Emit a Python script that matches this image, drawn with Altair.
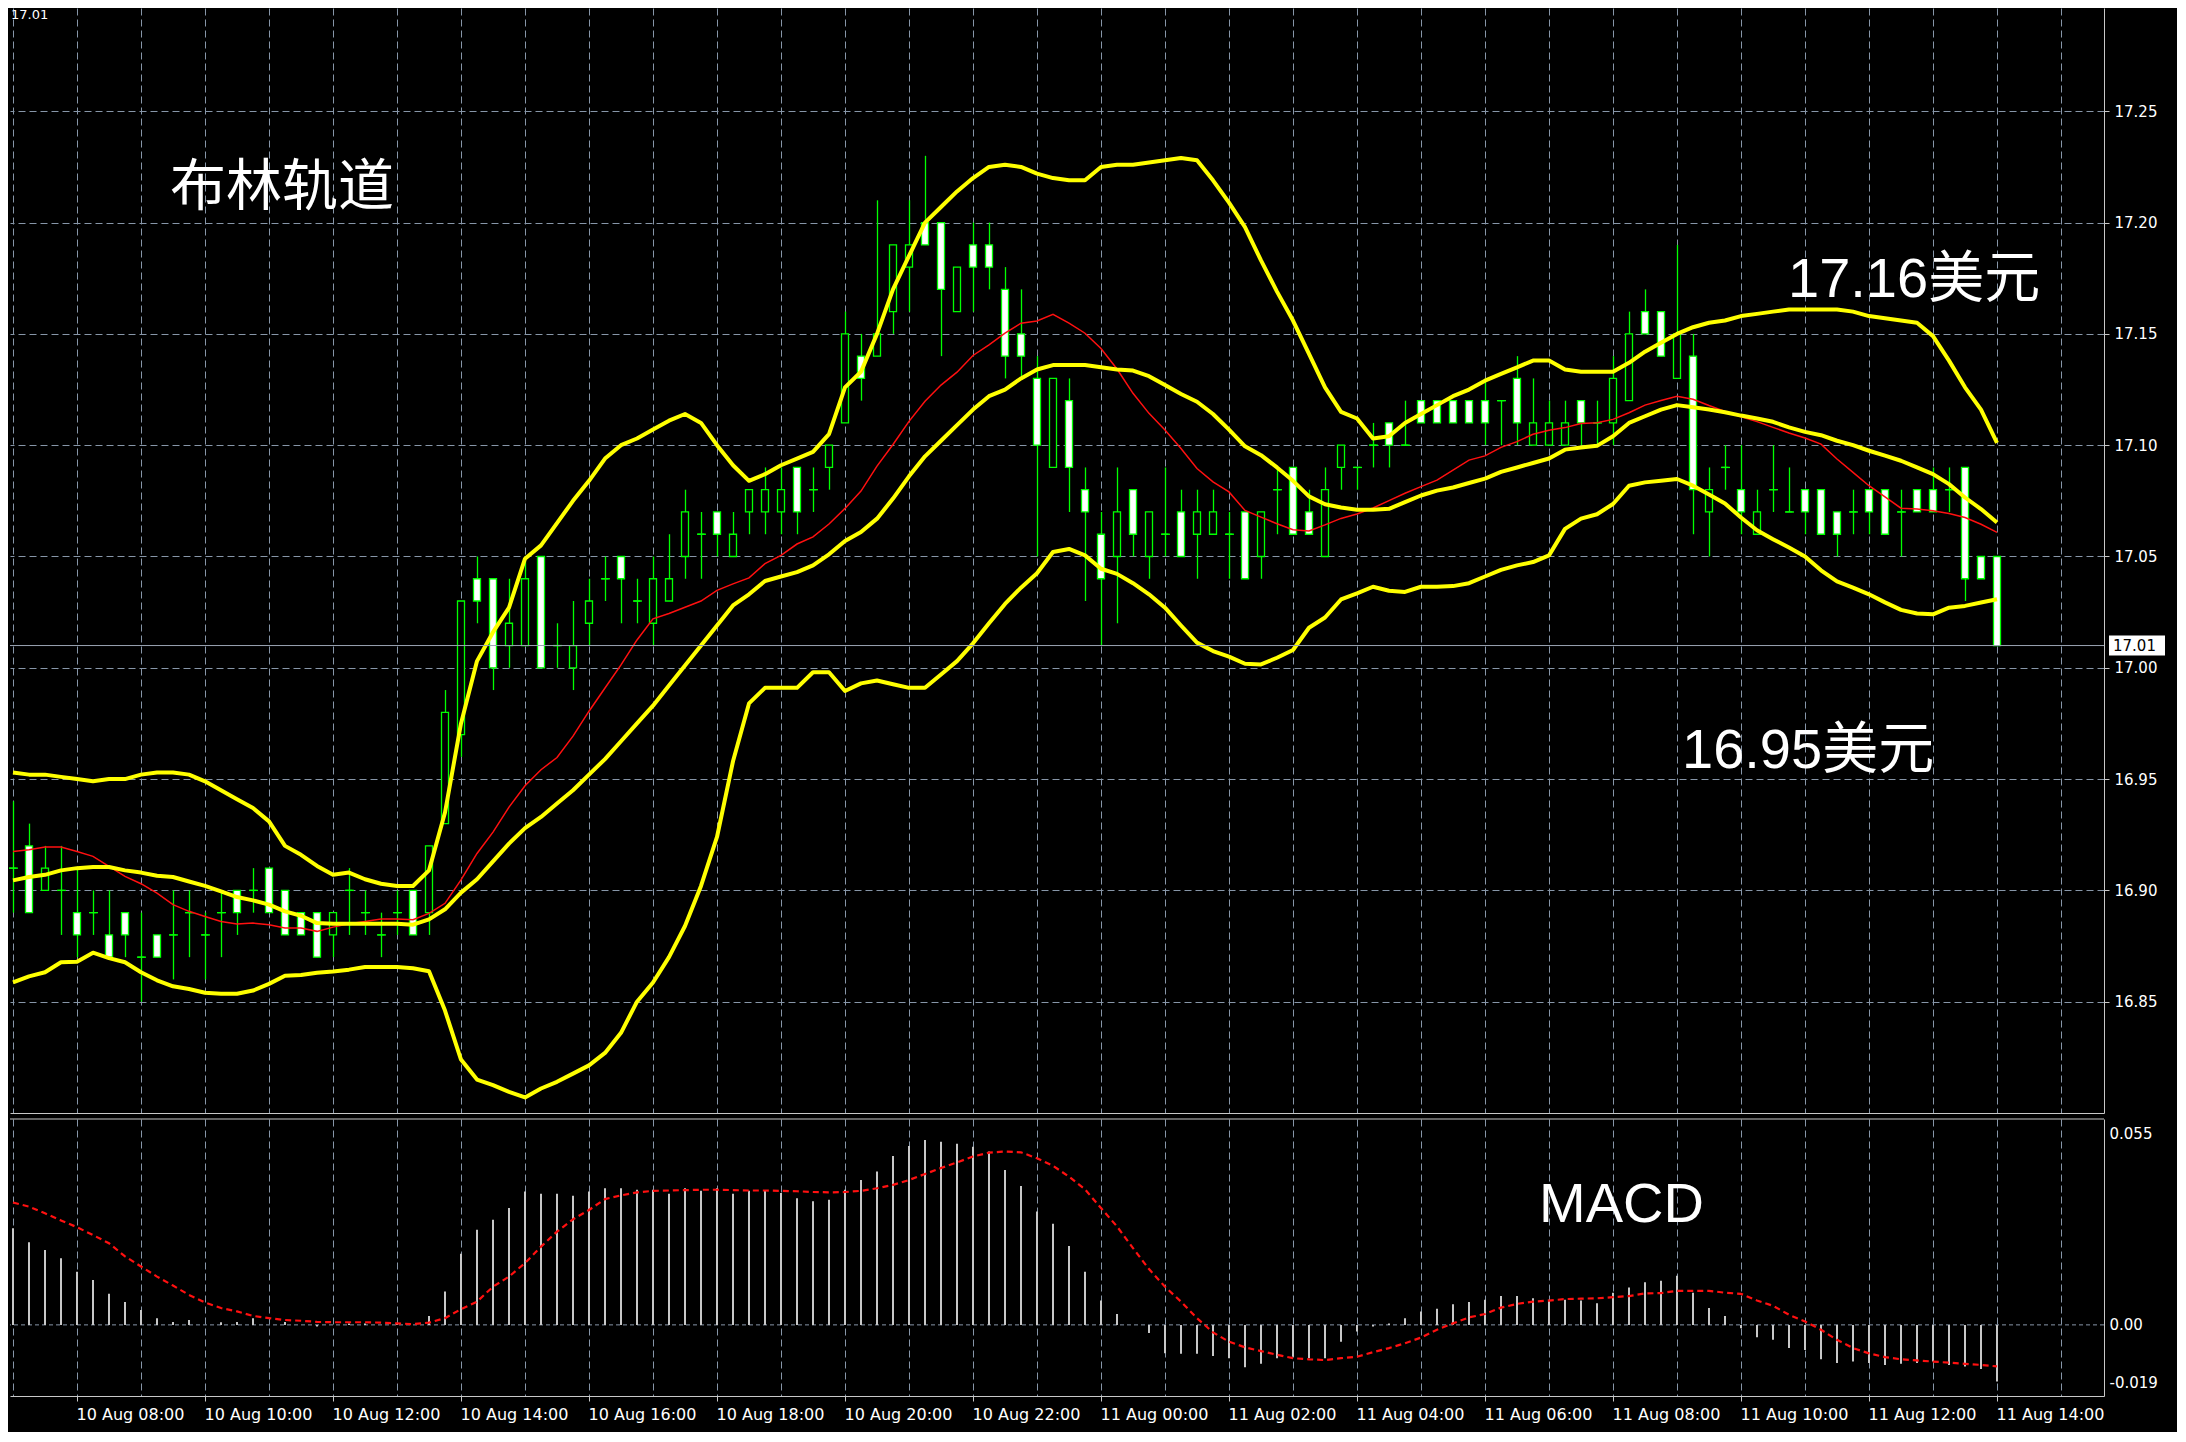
import altair as alt
import pandas as pd

# ---------------- data (XAGUSD M15) ----------------
open_ = [
    16.91, 16.92, 16.90, 16.90, 16.89, 16.89, 16.88, 16.89, 16.87, 16.88,
    16.88, 16.89, 16.88, 16.89, 16.90, 16.90, 16.91, 16.90, 16.89, 16.89,
    16.88, 16.90, 16.89, 16.88, 16.89, 16.90, 16.89, 16.93, 16.97, 17.04,
    17.04, 17.01, 17.01, 17.05, 17.01, 17.00, 17.02, 17.04, 17.05, 17.03,
    17.02, 17.03, 17.05, 17.06, 17.07, 17.05, 17.07, 17.07, 17.07, 17.09,
    17.08, 17.09, 17.11, 17.14, 17.14, 17.16, 17.18, 17.20, 17.20, 17.16,
    17.19, 17.19, 17.17, 17.15, 17.13, 17.09, 17.12, 17.08, 17.06, 17.05,
    17.08, 17.05, 17.06, 17.07, 17.06, 17.06, 17.06, 17.07, 17.05, 17.08,
    17.09, 17.07, 17.05, 17.09, 17.09, 17.10, 17.11, 17.10, 17.12, 17.12,
    17.12, 17.12, 17.12, 17.12, 17.13, 17.10, 17.10, 17.10, 17.12, 17.11,
    17.11, 17.12, 17.16, 17.16, 17.13, 17.14, 17.07, 17.09, 17.08, 17.06,
    17.08, 17.07, 17.08, 17.08, 17.07, 17.07, 17.08, 17.08, 17.07, 17.08,
    17.08, 17.08, 17.09, 17.05, 17.05]
high_ = [
    16.94, 16.93, 16.92, 16.92, 16.91, 16.90, 16.90, 16.89, 16.89, 16.88,
    16.90, 16.90, 16.89, 16.90, 16.90, 16.91, 16.91, 16.90, 16.89, 16.89,
    16.89, 16.91, 16.90, 16.89, 16.90, 16.90, 16.92, 16.99, 17.03, 17.05,
    17.04, 17.04, 17.05, 17.05, 17.02, 17.03, 17.04, 17.05, 17.05, 17.04,
    17.05, 17.06, 17.08, 17.07, 17.07, 17.07, 17.08, 17.09, 17.09, 17.09,
    17.09, 17.10, 17.16, 17.15, 17.21, 17.19, 17.21, 17.23, 17.20, 17.18,
    17.20, 17.20, 17.18, 17.17, 17.14, 17.13, 17.13, 17.09, 17.07, 17.09,
    17.08, 17.07, 17.09, 17.08, 17.08, 17.08, 17.07, 17.07, 17.07, 17.09,
    17.09, 17.08, 17.09, 17.10, 17.09, 17.11, 17.11, 17.12, 17.12, 17.12,
    17.12, 17.12, 17.13, 17.12, 17.14, 17.13, 17.12, 17.12, 17.12, 17.12,
    17.14, 17.16, 17.17, 17.16, 17.19, 17.15, 17.09, 17.10, 17.10, 17.08,
    17.10, 17.09, 17.08, 17.08, 17.07, 17.08, 17.08, 17.08, 17.08, 17.08,
    17.09, 17.09, 17.09, 17.05, 17.05]
low_ = [
    16.89, 16.89, 16.90, 16.88, 16.87, 16.88, 16.87, 16.87, 16.85, 16.87,
    16.86, 16.87, 16.86, 16.87, 16.88, 16.89, 16.89, 16.88, 16.88, 16.87,
    16.87, 16.88, 16.88, 16.87, 16.88, 16.88, 16.88, 16.93, 16.96, 17.02,
    16.99, 17.00, 17.01, 17.00, 17.00, 16.99, 17.01, 17.03, 17.02, 17.02,
    17.01, 17.03, 17.04, 17.04, 17.05, 17.05, 17.06, 17.06, 17.06, 17.06,
    17.07, 17.08, 17.11, 17.12, 17.14, 17.15, 17.16, 17.19, 17.14, 17.16,
    17.16, 17.17, 17.13, 17.13, 17.05, 17.09, 17.07, 17.03, 17.01, 17.02,
    17.05, 17.04, 17.05, 17.05, 17.04, 17.06, 17.04, 17.04, 17.04, 17.06,
    17.06, 17.06, 17.05, 17.08, 17.08, 17.09, 17.09, 17.10, 17.11, 17.11,
    17.11, 17.11, 17.10, 17.10, 17.10, 17.10, 17.10, 17.10, 17.10, 17.10,
    17.10, 17.12, 17.15, 17.14, 17.13, 17.06, 17.05, 17.08, 17.06, 17.06,
    17.07, 17.07, 17.06, 17.06, 17.05, 17.06, 17.06, 17.06, 17.05, 17.07,
    17.07, 17.07, 17.03, 17.04, 17.01]
close_ = [
    16.91, 16.89, 16.91, 16.90, 16.88, 16.89, 16.87, 16.88, 16.87, 16.87,
    16.88, 16.89, 16.88, 16.89, 16.89, 16.90, 16.89, 16.88, 16.88, 16.87,
    16.89, 16.90, 16.89, 16.88, 16.89, 16.88, 16.92, 16.98, 17.03, 17.03,
    17.00, 17.02, 17.04, 17.00, 17.01, 17.01, 17.03, 17.04, 17.04, 17.03,
    17.04, 17.04, 17.07, 17.06, 17.06, 17.06, 17.08, 17.08, 17.08, 17.07,
    17.08, 17.10, 17.15, 17.13, 17.15, 17.19, 17.19, 17.19, 17.17, 17.18,
    17.18, 17.18, 17.14, 17.14, 17.10, 17.13, 17.09, 17.07, 17.04, 17.07,
    17.06, 17.07, 17.06, 17.05, 17.07, 17.07, 17.06, 17.04, 17.07, 17.08,
    17.06, 17.06, 17.08, 17.10, 17.09, 17.10, 17.10, 17.10, 17.11, 17.11,
    17.11, 17.11, 17.11, 17.12, 17.11, 17.11, 17.11, 17.11, 17.11, 17.11,
    17.13, 17.15, 17.15, 17.14, 17.15, 17.08, 17.08, 17.09, 17.07, 17.07,
    17.08, 17.07, 17.07, 17.06, 17.06, 17.07, 17.07, 17.06, 17.07, 17.07,
    17.07, 17.08, 17.04, 17.04, 17.01]

bb_upper = [
    16.953, 16.952, 16.952, 16.951, 16.950, 16.949, 16.950, 16.950, 16.952, 16.953,
    16.953, 16.952, 16.949, 16.945, 16.941, 16.937, 16.931, 16.920, 16.916, 16.911,
    16.907, 16.908, 16.905, 16.903, 16.902, 16.902, 16.909, 16.935, 16.975, 17.003,
    17.016, 17.027, 17.049, 17.055, 17.065, 17.075, 17.084, 17.094, 17.100, 17.103,
    17.107, 17.111, 17.114, 17.110, 17.100, 17.091, 17.084, 17.087, 17.091, 17.094,
    17.097, 17.105, 17.126, 17.133, 17.150, 17.170, 17.185, 17.200, 17.207, 17.214,
    17.220, 17.225, 17.226, 17.225, 17.222, 17.220, 17.219, 17.219, 17.225, 17.226,
    17.226, 17.227, 17.228, 17.229, 17.228, 17.219, 17.209, 17.198, 17.183, 17.169,
    17.156, 17.141, 17.126, 17.115, 17.112, 17.103, 17.104, 17.110, 17.114, 17.118,
    17.122, 17.125, 17.129, 17.132, 17.135, 17.138, 17.138, 17.134, 17.133, 17.133,
    17.133, 17.137, 17.142, 17.146, 17.150, 17.153, 17.155, 17.156, 17.158, 17.159,
    17.160, 17.161, 17.161, 17.161, 17.161, 17.160, 17.158, 17.157, 17.156, 17.155,
    17.149, 17.138, 17.126, 17.116, 17.101]
bb_mid = [
    16.9045, 16.906, 16.907, 16.909, 16.910, 16.9105, 16.9105, 16.909, 16.908, 16.9066,
    16.906, 16.904, 16.902, 16.8996, 16.897, 16.8955, 16.8936, 16.8906, 16.8886, 16.8853,
    16.885, 16.885, 16.885, 16.885, 16.885, 16.8846, 16.887, 16.8915, 16.899, 16.905,
    16.913, 16.921, 16.928, 16.933, 16.939, 16.945, 16.952, 16.959, 16.967, 16.975,
    16.983, 16.992, 17.001, 17.010, 17.019, 17.028, 17.033, 17.039, 17.041, 17.043,
    17.046, 17.051, 17.057, 17.061, 17.067, 17.076, 17.086, 17.095, 17.102, 17.109,
    17.116, 17.122, 17.125, 17.130, 17.134, 17.136, 17.136, 17.136, 17.135, 17.134,
    17.1335, 17.131, 17.127, 17.123, 17.1195, 17.114, 17.107, 17.0995, 17.0955, 17.090,
    17.084, 17.077, 17.0735, 17.072, 17.071, 17.071, 17.0714, 17.0744, 17.0774, 17.0796,
    17.081, 17.083, 17.085, 17.088, 17.090, 17.092, 17.094, 17.098, 17.099, 17.0997,
    17.104, 17.110, 17.113, 17.116, 17.118, 17.117, 17.116, 17.1148, 17.1133, 17.112,
    17.1105, 17.108, 17.106, 17.1045, 17.102, 17.100, 17.0975, 17.0953, 17.093, 17.090,
    17.087, 17.0825, 17.0765, 17.0713, 17.0653]
bb_lower = [
    16.8587, 16.8614, 16.8632, 16.8677, 16.868, 16.872, 16.8696, 16.8677, 16.8632, 16.8596,
    16.8569, 16.8557, 16.854, 16.8536, 16.8536, 16.855, 16.858, 16.8617, 16.862, 16.863,
    16.8636, 16.8644, 16.8656, 16.8656, 16.8656, 16.865, 16.8637, 16.846, 16.824, 16.815,
    16.8125, 16.8095, 16.807, 16.811, 16.814, 16.8177, 16.8214, 16.827, 16.836, 16.850,
    16.8586, 16.870, 16.884, 16.902, 16.924, 16.958, 16.984, 16.991, 16.991, 16.991,
    16.998, 16.998, 16.9896, 16.993, 16.9943, 16.9926, 16.991, 16.991, 16.997, 17.003,
    17.011, 17.020, 17.0287, 17.036, 17.0425, 17.052, 17.0534, 17.0505, 17.0445, 17.0422,
    17.038, 17.033, 17.027, 17.019, 17.0113, 17.0075, 17.005, 17.0018, 17.0015, 17.0045,
    17.008, 17.018, 17.0226, 17.0307, 17.0334, 17.0364, 17.0346, 17.0341, 17.0364, 17.0364,
    17.0367, 17.038, 17.041, 17.044, 17.046, 17.0475, 17.0505, 17.0624, 17.067, 17.069,
    17.0736, 17.0818, 17.0833, 17.084, 17.0848, 17.0818, 17.0778, 17.0738, 17.0675, 17.0618,
    17.0578, 17.054, 17.050, 17.0438, 17.0388, 17.036, 17.033, 17.0294, 17.026, 17.0244,
    17.024, 17.027, 17.0278, 17.0293, 17.0308]
ma_red = [
    16.9175, 16.9183, 16.9195, 16.9195, 16.9175, 16.9153, 16.9108, 16.9063, 16.903, 16.8988,
    16.8936, 16.8906, 16.8883, 16.886, 16.8849, 16.8853, 16.8846, 16.8831, 16.8831, 16.8816,
    16.8835, 16.885, 16.886, 16.8871, 16.8871, 16.8868, 16.8897, 16.8942, 16.9047, 16.9166,
    16.9262, 16.9374, 16.947, 16.9542, 16.9597, 16.9693, 16.9805, 16.9909, 17.0013, 17.0125,
    17.022, 17.0244, 17.0272, 17.030, 17.0348, 17.0377, 17.0404, 17.0468, 17.0505, 17.0556,
    17.0588, 17.0646, 17.0716, 17.0794, 17.0906, 17.1003, 17.1107, 17.1197, 17.127, 17.1328,
    17.1403, 17.1451, 17.1503, 17.1548, 17.1558, 17.1588, 17.1548, 17.1503, 17.1434, 17.1342,
    17.1233, 17.1143, 17.1068, 17.0985, 17.0895, 17.0835, 17.079, 17.0707, 17.0677, 17.0647,
    17.062, 17.0615, 17.0642, 17.0671, 17.0691, 17.0718, 17.0751, 17.0784, 17.0814, 17.0843,
    17.0888, 17.0933, 17.0952, 17.099, 17.1016, 17.1049, 17.1067, 17.1079, 17.1097, 17.1101,
    17.1116, 17.1146, 17.118, 17.1201, 17.122, 17.1206, 17.1178, 17.1152, 17.1128, 17.1106,
    17.108, 17.1055, 17.1032, 17.1005, 17.0938, 17.0878, 17.0818, 17.0768, 17.0717, 17.0713,
    17.0705, 17.0693, 17.0675, 17.0645, 17.0608]

macd_hist = [
    0.0258, 0.0221, 0.0200, 0.0178, 0.0142, 0.0120, 0.0083, 0.0061, 0.0040, 0.0018,
    0.0008, 0.0013, 0.0000, 0.0007, 0.0008, 0.0018, 0.0000, 0.0008, 0.0000, -0.0004,
    0.0000, 0.0004, 0.0004, 0.0000, 0.0004, 0.0000, 0.0024, 0.0089, 0.0190, 0.0254,
    0.0281, 0.0312, 0.0356, 0.0350, 0.0350, 0.0345, 0.0356, 0.0365, 0.0365, 0.0361,
    0.0361, 0.0350, 0.0365, 0.0358, 0.0365, 0.0350, 0.0358, 0.0358, 0.0352, 0.0338,
    0.0330, 0.0334, 0.0361, 0.0387, 0.0410, 0.0451, 0.0478, 0.0494, 0.0489, 0.0484,
    0.0476, 0.0463, 0.0414, 0.0371, 0.0303, 0.0270, 0.0211, 0.0142, 0.0065, 0.0029,
    0.0000, -0.0022, -0.0076, -0.0077, -0.0077, -0.0083, -0.0089, -0.0113, -0.0104, -0.0089,
    -0.0085, -0.0089, -0.0089, -0.0045, -0.0018, -0.0004, 0.0004, 0.0018, 0.0036, 0.0043,
    0.0055, 0.0061, 0.0067, 0.0077, 0.0077, 0.0071, 0.0067, 0.0067, 0.0065, 0.0058,
    0.0086, 0.0100, 0.0114, 0.0118, 0.0131, 0.0086, 0.0045, 0.0024, -0.0009, -0.0033,
    -0.0040, -0.0062, -0.0067, -0.0092, -0.0102, -0.0098, -0.0102, -0.0107, -0.0104, -0.0102,
    -0.0098, -0.0107, -0.0111, -0.0118, -0.0151]
macd_signal = [
    0.0327, 0.0316, 0.0298, 0.0279, 0.0261, 0.0240, 0.0218, 0.0183, 0.0156, 0.0129,
    0.0105, 0.0080, 0.0060, 0.0045, 0.0036, 0.0024, 0.0018, 0.0013, 0.0011, 0.0008,
    0.0007, 0.0007, 0.0007, 0.0006, 0.0004, 0.0002, 0.0006, 0.0018, 0.0042, 0.0062,
    0.0102, 0.0129, 0.0165, 0.0209, 0.0249, 0.0282, 0.0307, 0.0336, 0.0346, 0.0354,
    0.0358, 0.0359, 0.0360, 0.0361, 0.0361, 0.0360, 0.0359, 0.0359, 0.0358, 0.0357,
    0.0355, 0.0354, 0.0355, 0.0358, 0.0365, 0.0374, 0.0387, 0.0403, 0.0419, 0.0434,
    0.0450, 0.0460, 0.0463, 0.0461, 0.0445, 0.0425, 0.0396, 0.0362, 0.0312, 0.0263,
    0.0205, 0.0149, 0.0102, 0.0062, 0.0018, -0.0020, -0.0045, -0.0060, -0.0070, -0.0080,
    -0.0089, -0.0092, -0.0094, -0.0089, -0.0085, -0.0073, -0.0062, -0.0049, -0.0034, -0.0013,
    0.0004, 0.0020, 0.0029, 0.0046, 0.0056, 0.0062, 0.0065, 0.0069, 0.0070, 0.0071,
    0.0074, 0.0077, 0.0084, 0.0085, 0.0091, 0.0091, 0.0091, 0.0086, 0.0083, 0.0065,
    0.0051, 0.0027, 0.0009, -0.0013, -0.0040, -0.0062, -0.0076, -0.0086, -0.0092, -0.0095,
    -0.0098, -0.0101, -0.0104, -0.0107, -0.0111]

price_ticks = [16.85, 16.90, 16.95, 17.00, 17.05, 17.10, 17.15, 17.20, 17.25]
macd_tick_pos = [0.0510, 0.0, -0.0155]
macd_tick_labels = ["0.055", "0.00", "-0.019"]
title_text = "布林轨道"
upper_note = "17.16美元"
lower_note = "16.95美元"
macd_note = "MACD"

# ---------------- frame ----------------
n = len(close_)
start = pd.Timestamp("2017-08-10 07:00")
times = [(start + pd.Timedelta(minutes=15 * i)).strftime("%Y-%m-%dT%H:%M:%S") for i in range(n)]

df = pd.DataFrame({
    "t": times, "o": open_, "h": high_, "l": low_, "c": close_,
    "up": bb_upper, "mid": bb_mid, "lo": bb_lower, "ma": ma_red,
    "hist": macd_hist, "sig": macd_signal,
})
df["zero"] = 0.0
df["blo"] = df[["o", "c"]].min(axis=1)
df["bhi"] = df[["o", "c"]].max(axis=1)
df["fillc"] = ["#ffffff" if c < o else "#000000" for o, c in zip(open_, close_)]
doji = df[(df["o"] - df["c"]).abs() < 1e-9]
last = pd.DataFrame({"p": [close_[-1]], "label": [f"{close_[-1]:.2f}"]})

W, H1, H2 = 2094, 1105, 277
GRID = "#8796a8"
FRAME = "#c8c8c8"
LIME = "#00ff00"
YELLOW = "#ffff00"
FONT = "DejaVu Sans"
DASH = [7, 4]

X_DOMAIN = [alt.DateTime(year=2017, month=8, date=10, hours=6, minutes=57, seconds=11, milliseconds=250),
            alt.DateTime(year=2017, month=8, date=11, hours=15, minutes=40, seconds=18, milliseconds=750)]
hour_ticks = [alt.DateTime(year=2017, month=8, date=10 + h // 24, hours=h % 24) for h in range(7, 40)]
xs = alt.Scale(domain=X_DOMAIN)

main_x_axis = alt.Axis(values=hour_ticks, labels=False, ticks=False, grid=True, gridColor=GRID,
                       gridDash=DASH, gridWidth=1, domain=True, domainColor=FRAME, domainWidth=1,
                       title=None)
price_axis = alt.Axis(orient="right", values=price_ticks, format=".2f", grid=True, gridColor=GRID,
                      gridDash=DASH, gridWidth=1, domain=True, domainColor=FRAME, domainWidth=1,
                      ticks=True, tickColor=FRAME, tickSize=5, labelColor="white", labelFont=FONT,
                      labelFontSize=15, labelPadding=5, title=None)
ys = alt.Scale(domain=[16.80, 17.2964], nice=False, zero=False)

xm = alt.X("t:T", scale=xs, axis=main_x_axis)
xm2 = alt.X2("t")


def ym(field):
    return alt.Y(f"{field}:Q", scale=ys, axis=price_axis)


base = alt.Chart(df)
wicks = base.mark_rule(color=LIME, strokeWidth=1.3, xOffset=0.5).encode(x=xm, y=ym("l"), y2=alt.Y2("h"))
bodies = base.mark_rect(xOffset=-3.5, x2Offset=3.5, stroke=LIME, strokeWidth=1.3).encode(
    x=xm, x2=xm2, y=ym("blo"), y2=alt.Y2("bhi"), fill=alt.Fill("fillc:N", scale=None))
dojis = alt.Chart(doji).mark_rule(xOffset=-4, x2Offset=5, color=LIME, strokeWidth=1.3).encode(
    x=xm, x2=xm2, y=ym("o"))
red = base.mark_line(color="#ff1010", strokeWidth=1.5).encode(x=xm, y=ym("ma"))
upper = base.mark_line(color=YELLOW, strokeWidth=4, strokeJoin="round").encode(x=xm, y=ym("up"))
middle = base.mark_line(color=YELLOW, strokeWidth=4, strokeJoin="round").encode(x=xm, y=ym("mid"))
lower = base.mark_line(color=YELLOW, strokeWidth=4, strokeJoin="round").encode(x=xm, y=ym("lo"))

lastline = alt.Chart(last).mark_rule(color="#9aa4b2", strokeWidth=1).encode(y=ym("p"))
lastbox = alt.Chart(last).mark_rect(fill="white", yOffset=-10, y2Offset=10).encode(
    x=alt.value(W + 5), x2=alt.value(W + 61), y=ym("p"), y2=alt.Y2("p"))
lasttxt = alt.Chart(last).mark_text(align="left", baseline="middle", color="black", font=FONT,
                                    fontSize=15).encode(x=alt.value(W + 9), y=ym("p"), text="label:N")
corner = alt.Chart(last).mark_text(align="left", baseline="top", color="white", font=FONT,
                                   fontSize=13).encode(
    x=alt.value(1), y=alt.value(1), text="label:N")


def note(txt, x, y, font, size):
    return alt.Chart(pd.DataFrame({"s": [txt]})).mark_text(
        align="left", baseline="middle", color="white", font=font, fontSize=size).encode(
        x=alt.value(x), y=alt.value(y), text="s:N")


t1 = note(title_text, 160, 180, "Noto Sans CJK SC", 56)
t2 = note(upper_note, 1778, 272, "Liberation Sans, Noto Sans CJK SC", 56)
t3 = note(lower_note, 1672, 743, "Liberation Sans, Noto Sans CJK SC", 56)

main = alt.layer(wicks, bodies, dojis, red, upper, middle, lower, lastline, lastbox, lasttxt,
                 corner, t1, t2, t3).properties(width=W, height=H1)

# ---------------- MACD panel ----------------
odd_test = "hours(datum.value) % 2 === 0"
macd_x_axis = alt.Axis(values=hour_ticks,
                       labelExpr=f"{odd_test} ? timeFormat(datum.value, '%d %b %H:%M') : ''",
                       tickOpacity={"condition": {"test": odd_test, "value": 1}, "value": 0},
                       tickSize=5, tickColor=FRAME, grid=True, gridColor=GRID, gridDash=DASH,
                       gridWidth=1, domain=True, domainColor=FRAME, domainWidth=1,
                       labelColor="white", labelFont=FONT, labelFontSize=16, labelAlign="left",
                       labelPadding=5, labelOffset=-1, labelOverlap=False, title=None)
lab_expr = (f"datum.value > 0.03 ? '{macd_tick_labels[0]}' : "
            f"(datum.value < -0.01 ? '{macd_tick_labels[2]}' : '{macd_tick_labels[1]}')")
macd_axis = alt.Axis(orient="right", values=macd_tick_pos, labelExpr=lab_expr, grid=False,
                     domain=True, domainColor=FRAME, domainWidth=1, ticks=False, tickSize=0,
                     labelColor="white", labelFont=FONT, labelFontSize=15, labelPadding=5,
                     title=None)
ms = alt.Scale(domain=[-0.019, 0.055], nice=False, zero=False)
xb = alt.X("t:T", scale=xs, axis=macd_x_axis)


def yb(field):
    return alt.Y(f"{field}:Q", scale=ms, axis=macd_axis)


zero_df = pd.DataFrame({"z": [0.0]})
zline = alt.Chart(zero_df).mark_rule(color=GRID, strokeDash=[4, 3], strokeWidth=1).encode(y=yb("z"))
hist = base.mark_rule(color="#c8c8c8", strokeWidth=2).encode(x=xb, y=yb("hist"), y2=alt.Y2("zero"))
sig = base.mark_line(color="#ff1010", strokeWidth=2.2, strokeDash=[6, 4]).encode(x=xb, y=yb("sig"))
topline = alt.Chart(zero_df).mark_rule(color=FRAME, strokeWidth=1).encode(
    x=alt.value(0), x2=alt.value(W), y=alt.value(0))
t4 = note(macd_note, 1529, 86, "Liberation Sans", 56)

macd = alt.layer(zline, hist, sig, topline, t4).properties(width=W, height=H2)

chart = alt.vconcat(main, macd, spacing=6, bounds="flush").properties(
    padding={"left": 0, "top": 0, "right": 12, "bottom": 10},
    background="black",
).configure_view(strokeWidth=0)

chart.save("out.html", embed_options={"renderer": "svg", "actions": False})
